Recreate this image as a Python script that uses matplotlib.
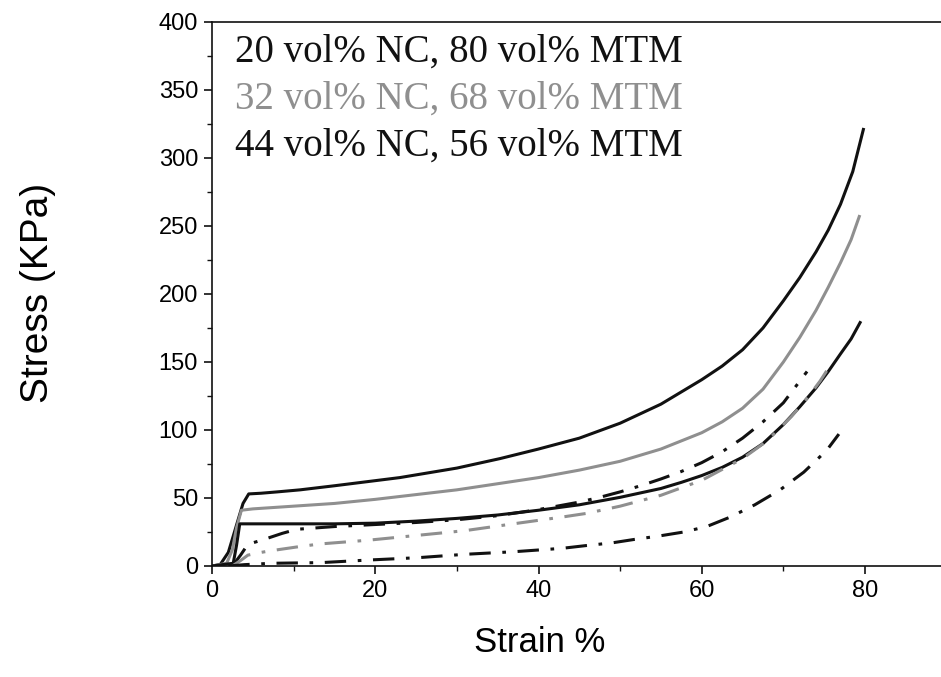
import matplotlib
matplotlib.use("Agg")
import matplotlib.pyplot as plt
from matplotlib.ticker import MultipleLocator

# ---- data ----
legend_labels = ["20 vol% NC, 80 vol% MTM",
                 "32 vol% NC, 68 vol% MTM",
                 "44 vol% NC, 56 vol% MTM"]

# solid curves
s20_strain = [0, 1.0, 2.0, 3.0, 3.8, 4.5, 6, 8, 10.8, 15, 19, 23, 27, 30, 35.3, 40, 45,
              50, 55, 60, 62.5, 65, 67.5, 70, 72, 74, 75.5, 77, 78.5, 79.8]
s20_stress = [0, 1, 10, 30, 46, 53, 53.5, 54.5, 56, 59, 62, 65, 69, 72, 79, 86, 94,
              105, 119, 137, 147, 159, 175, 195, 212, 231, 247, 266, 290, 321]

s32_strain = [0, 1.8, 2.5, 3.0, 3.6, 5, 10, 15, 20, 25, 30, 35, 40, 45, 50, 55, 60,
              62.5, 65, 67.5, 70, 72, 74, 75.5, 77, 78.3, 79.3]
s32_stress = [0, 2, 12, 28, 41, 42, 44, 46, 49, 52.5, 56, 60.5, 65, 70.5, 77, 86, 98,
              106, 116, 130, 150, 168, 188, 205, 223, 240, 257]

s44_strain = [0, 2.6, 3.0, 3.4, 4, 10, 15, 20, 25, 30, 35, 40, 45, 50, 55, 57.5, 60,
              62.5, 65, 67.5, 70, 72, 74, 75.5, 77, 78.3, 79.4]
s44_stress = [0, 2, 15, 31, 31, 31, 31, 31.5, 33, 35, 37.5, 41, 45, 50.5, 57, 61.5, 66.5,
              72.5, 80, 90, 104, 117, 131, 143, 156, 167, 179]

# dash-dot curves
d1_strain = [2.5, 3.5, 4.4, 6.1, 8.6, 10.4, 15, 20, 25, 30, 35, 40, 45, 47.5, 50, 52.5,
             55, 57.5, 60, 62.5, 65, 67.5, 70, 72.9]
d1_stress = [0, 8, 16, 19, 24, 27, 29, 30.5, 32, 34, 37, 41.5, 47, 50.5, 54.5, 59,
             64, 69.5, 76, 84, 94, 106, 120, 143]

d2_strain = [2.5, 3.5, 4.4, 6, 7.3, 10.4, 13.2, 19.2, 25.1, 31, 36.9, 42.9, 45.9, 50,
             55, 60, 65, 68, 71, 73, 74.5, 76]
d2_stress = [0, 4, 8, 10, 11.3, 14, 16.2, 19, 22.5, 26, 31, 36, 38.7, 44,
             52, 63, 79, 92, 110, 124, 136, 150]

d3_strain = [2, 4, 7.3, 13.4, 19.2, 25.2, 31, 37, 42.9, 45.8, 49, 51.8, 54.7, 57.8, 60.6,
             63.5, 66.5, 69.6, 72.5, 75.3, 76.8]
d3_stress = [0, 1, 2, 2.5, 4.4, 6.1, 8.6, 10.5, 13, 15, 17, 19.6, 22, 25, 29,
             36, 45, 56, 69, 85, 97]

x_ticks = [0, 20, 40, 60, 80]
y_ticks = [0, 50, 100, 150, 200, 250, 300, 350, 400]

BLACK = "#111111"
GREY = "#8f8f8f"

fig = plt.figure(figsize=(9.41, 6.77), dpi=100)
L, B = 212 / 941, (677 - 566) / 677
W, H = (941 - 212) / 941, (566 - 22) / 677
ax = fig.add_axes([L, B, W, H])

lw = 2.2
ax.plot(s20_strain, s20_stress, color=BLACK, lw=lw, solid_joinstyle="round")
ax.plot(s32_strain, s32_stress, color=GREY, lw=lw, solid_joinstyle="round")
ax.plot(s44_strain, s44_stress, color=BLACK, lw=lw, solid_joinstyle="round")

dd = [7, 3.8, 1.2, 3.8]
ax.plot(d1_strain, d1_stress, color=BLACK, lw=lw, dashes=dd)
ax.plot(d2_strain, d2_stress, color=GREY, lw=lw, dashes=dd)
ax.plot(d3_strain, d3_stress, color=BLACK, lw=lw, dashes=dd)

ax.set_xlim(0, (941 - 212) / ((865 - 212) / 80))
ax.set_ylim(0, 400)
ax.set_xticks(x_ticks)
ax.set_yticks(y_ticks)
ax.xaxis.set_minor_locator(MultipleLocator(10))
ax.yaxis.set_minor_locator(MultipleLocator(25))

for s in ["left", "bottom", "top"]:
    ax.spines[s].set_linewidth(1.2)
    ax.spines[s].set_color(BLACK)
ax.spines["right"].set_visible(False)

ax.tick_params(which="major", direction="out", length=6, width=1.2, color=BLACK,
               labelsize=17, pad=4)
ax.tick_params(which="minor", direction="out", length=3.5, width=1.0, color=BLACK)
for lab in ax.get_xticklabels() + ax.get_yticklabels():
    lab.set_fontfamily("Liberation Sans")

ax.set_xlabel("Strain %", fontsize=25, fontfamily="Liberation Sans")
ax.xaxis.set_label_coords((540 - 212) / 729, (566 - 642) / 544)
ax.xaxis.label.set_va("center")
ax.set_ylabel("Stress (KPa)", fontsize=28, fontfamily="Liberation Sans")
ax.yaxis.set_label_coords((38 - 212) / 729, (566 - 293) / 544)
ax.yaxis.label.set_va("center")

colors = [BLACK, GREY, BLACK]
baselines = [62, 109, 156]
for lab, c, yb in zip(legend_labels, colors, baselines):
    ax.text((235 - 212) / 729, (566 - yb) / 544, lab, transform=ax.transAxes,
            fontsize=28, fontfamily="Liberation Serif", color=c,
            ha="left", va="baseline")

fig.savefig("out.png", dpi=100)
